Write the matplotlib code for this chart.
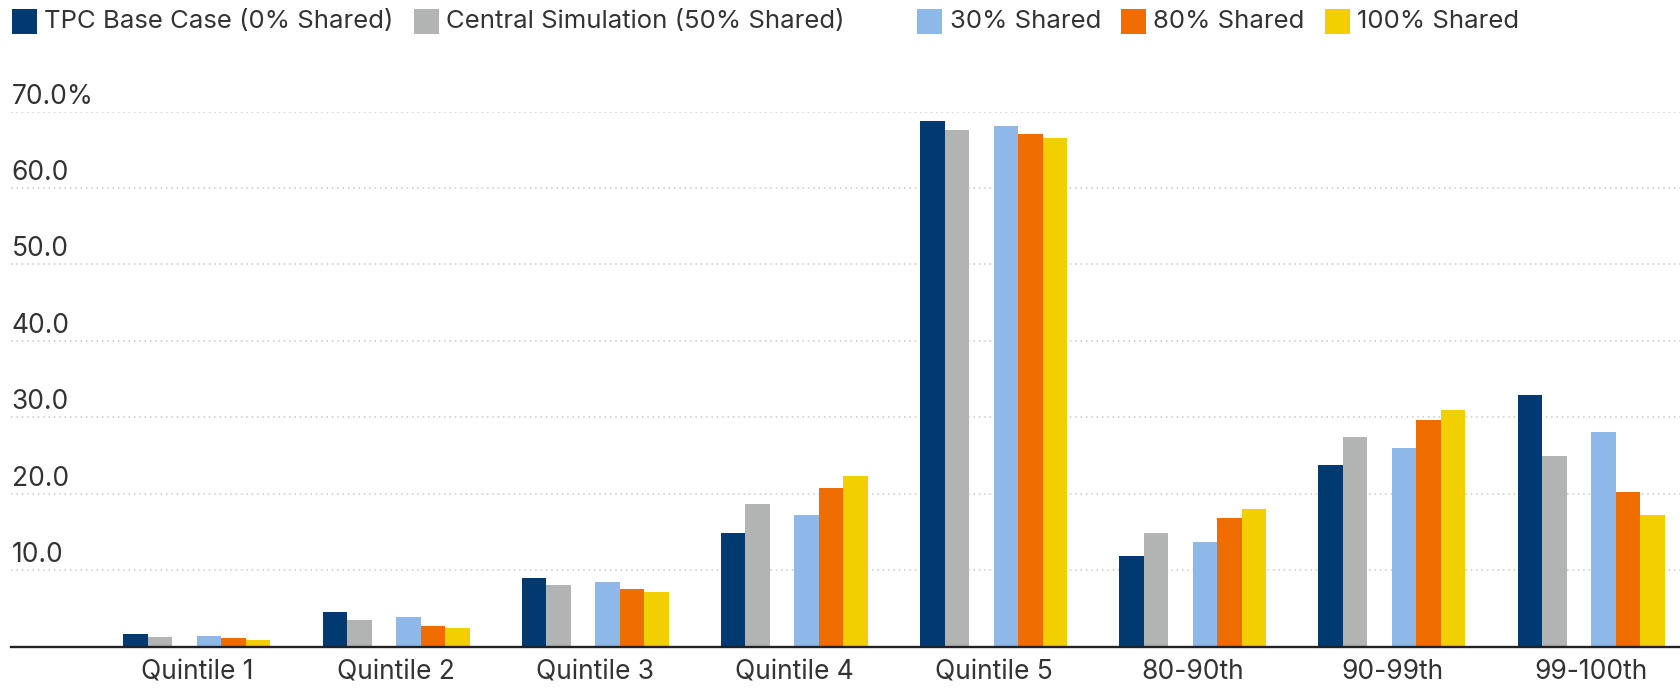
import numpy as np
import matplotlib
matplotlib.use("Agg")
import matplotlib.pyplot as plt
from matplotlib import transforms
from matplotlib.patches import Rectangle

plt.rcParams['font.family'] = ['Inter', 'DejaVu Sans']

# data
categories = ["Quintile 1", "Quintile 2", "Quintile 3", "Quintile 4",
              "Quintile 5", "80-90th", "90-99th", "99-100th"]
tpc_base = [1.6, 4.5, 9.0, 14.9, 68.7, 11.8, 23.8, 32.9]
central_sim = [1.3, 3.5, 8.1, 18.6, 67.6, 14.9, 27.4, 25.0]
shared_30 = [1.4, 3.9, 8.4, 17.2, 68.1, 13.7, 26.0, 28.1]
shared_80 = [1.1, 2.7, 7.5, 20.8, 67.0, 16.8, 29.6, 20.2]
shared_100 = [0.9, 2.4, 7.1, 22.3, 66.5, 18.0, 31.0, 17.2]
y_ticks = [10, 20, 30, 40, 50, 60, 70]

# series name, values, colour, slot in the group (slot 2 is an empty series)
series = [
    ("TPC Base Case (0% Shared)", tpc_base, "#013a70", 0),
    ("Central Simulation (50% Shared)", central_sim, "#b2b3b3", 1),
    ("", None, None, 2),
    ("30% Shared", shared_30, "#8eb8e8", 3),
    ("80% Shared", shared_80, "#ef6c00", 4),
    ("100% Shared", shared_100, "#f2cf00", 5),
]

W, H = 1681, 688
fig = plt.figure(figsize=(W / 100, H / 100), dpi=100)
ax = fig.add_axes([11 / W, (H - 646.7) / H, 1 - 11 / W, (646.7 - 111.5) / H])

x = np.arange(len(categories))
bw = 0.123
for name, vals, col, slot in series:
    if vals is None:
        continue
    ax.bar(x + (slot - 2.5) * bw, vals, width=bw, color=col, linewidth=0, zorder=3)

ax.set_xlim(-0.933, 7.451)
ax.set_ylim(0, 70)
for s in ax.spines.values():
    s.set_visible(False)

ax.set_yticks(y_ticks)
ax.yaxis.grid(True, color="#c8c8c8", linestyle=(0, (1, 2.5)), linewidth=1.1, zorder=0)
ax.tick_params(axis="y", length=0, labelleft=False)
ax.axhline(0, color="#222222", linewidth=1.7, zorder=4, clip_on=False)

ax.set_xticks(x, categories)
ax.tick_params(axis="x", length=0, pad=9, labelsize=19, labelcolor="#333333")

# y labels sit above their gridlines
lab_tr = transforms.offset_copy(ax.get_yaxis_transform(), fig=fig, x=0.7, y=8, units="dots")
for v in y_ticks:
    txt = f"{v:.1f}%" if v == y_ticks[-1] else f"{v:.1f}"
    ax.text(0, v, txt, transform=lab_tr, ha="left", va="baseline", fontsize=19, color="#333333")

# legend across the top
renderer = fig.canvas.get_renderer()
cursor = 11.7
for name, vals, col, slot in series:
    if col is not None:
        fig.add_artist(Rectangle((cursor / W, (H - 34) / H), 25 / W, 24.7 / H,
                                 transform=fig.transFigure, color=col, linewidth=0))
    t = fig.text((cursor + 32.5) / W, (H - 28.3) / H, name, fontsize=18.5,
                 color="#333333", ha="left", va="baseline")
    ext = t.get_window_extent(renderer)
    cursor = (cursor + 32.5 + ext.width + 20) if name else (cursor + 32.5 + 20)

fig.savefig("out.png", dpi=100)
